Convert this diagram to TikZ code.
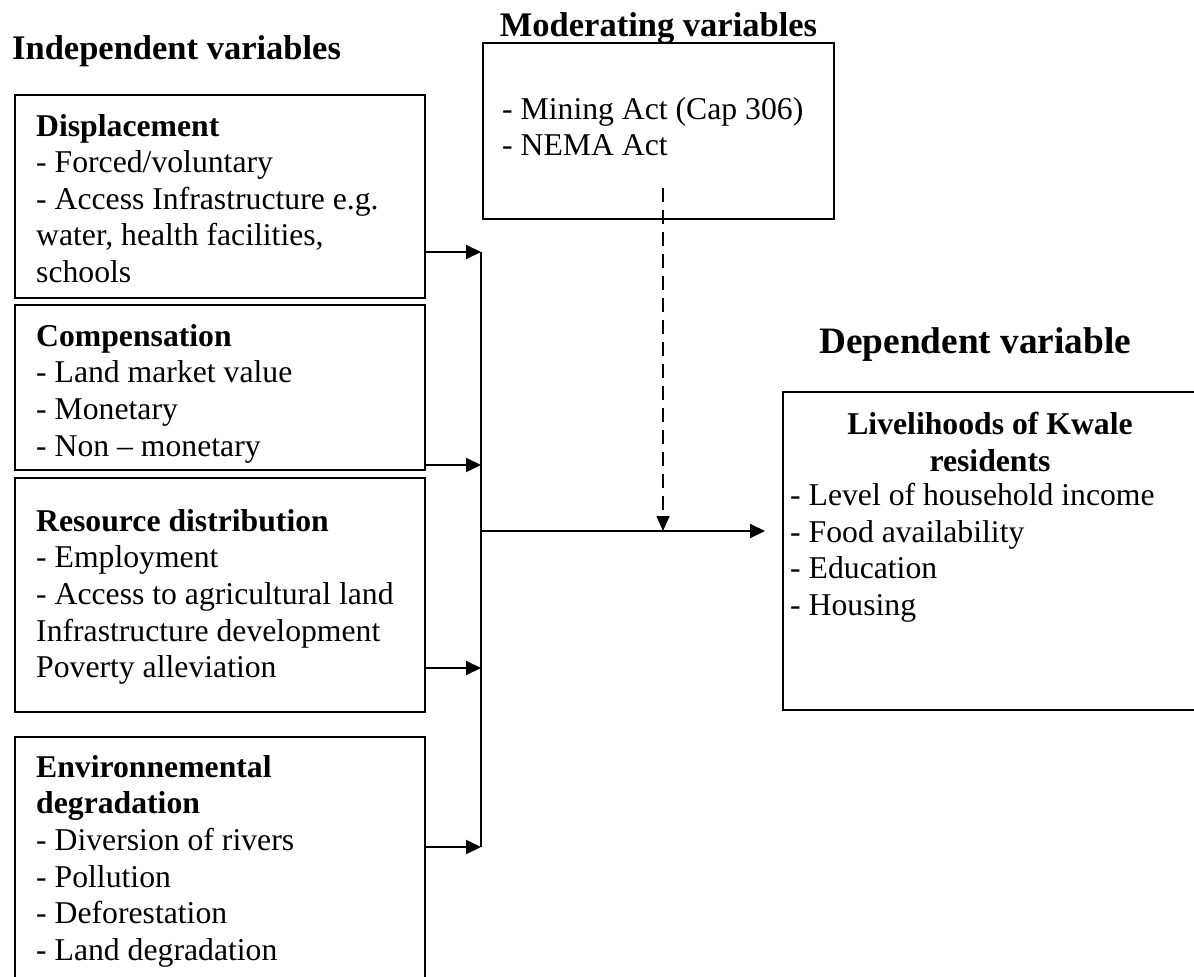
\documentclass[tikz,border=0pt]{standalone}
\usepackage{fontspec}
\setmainfont{Liberation Serif}
\usetikzlibrary{positioning,arrows.meta}

\tikzset{
  varbox/.style={draw,line width=1.9pt,anchor=north west,inner sep=0pt,outer sep=0pt},
  boxtext/.style={align=left,inner sep=0pt,font=\fontsize{31.7}{36.6}\selectfont},
  head/.style={inner sep=0pt,font=\bfseries\fontsize{#1}{#1}\selectfont},
  wire/.style={line width=1.9pt},
  link/.style={wire,-{Triangle[length=15pt,width=14pt]}},
  dlink/.style={line width=1.3pt,dash pattern=on 14pt off 8pt,-{Triangle[length=15pt,width=13pt]}},
}

\begin{document}
\begin{tikzpicture}[x=1pt,y=-1pt]
  \useasboundingbox (0,0) rectangle (1194,977);

  % independent variables
  \node[head=34.5,anchor=base west] (indephead) at (12,59) {Independent variables};
  \node[varbox,minimum width=410pt,minimum height=203pt] (disp) at (15,95) {};
  \node[varbox,minimum width=410pt,minimum height=165pt] (comp) at (15,305) {};
  \node[varbox,minimum width=410pt,minimum height=234pt] (res) at (15,478) {};
  \node[varbox,minimum width=410pt,minimum height=270pt] (env) at (15,737) {};

  \node[boxtext,below right=19pt and 21pt of disp.north west] (disptxt)
    {\textbf{Displacement}\\- Forced/voluntary\\- Access Infrastructure e.g.\\water, health facilities,\\schools};
  \node[boxtext,below right=19pt and 21pt of comp.north west] (comptxt)
    {\textbf{Compensation}\\- Land market value\\- Monetary\\- Non – monetary};
  \node[boxtext,below right=31pt and 21pt of res.north west] (restxt)
    {\textbf{Resource distribution}\\- Employment\\- Access to agricultural land\\Infrastructure development\\Poverty alleviation};
  \node[boxtext,below right=18pt and 21pt of env.north west] (envtxt)
    {\textbf{Environnemental}\\\textbf{degradation}\\- Diversion of rivers\\- Pollution\\- Deforestation\\- Land degradation};

  % moderating variables
  \node[varbox,minimum width=351pt,minimum height=176pt] (mod) at (483,43) {};
  \node[head=34.5,anchor=base] (modhead) at ([yshift=7pt]mod.north) {Moderating variables};
  \node[boxtext,below right=54pt and 19pt of mod.north west] (modtxt)
    {- Mining Act (Cap 306)\\- NEMA Act};

  % dependent variable
  \node[head=37.3,anchor=base west] (dephead) at (819,353) {Dependent variable};
  \node[varbox,minimum width=414pt,minimum height=318pt] (dep) at (783,392) {};
  \node[boxtext,align=center,font=\bfseries\fontsize{31.7}{36.6}\selectfont,
        anchor=north] (deptitle) at ([yshift=-20pt]dep.north) {Livelihoods of Kwale\\residents};
  \node[boxtext,below right=91pt and 7pt of dep.north west] (deptxt)
    {- Level of household income\\- Food availability\\- Education\\- Housing};

  % connectors
  \coordinate (bus1) at (481,252);
  \coordinate (bus2) at (481,465);
  \coordinate (bus3) at (481,668);
  \coordinate (bus4) at (481,847);
  \coordinate (busmid) at (481,531);
  \coordinate (modtail) at (663,188);
  \draw[wire] (bus1) -- (bus4);
  \foreach \b/\n in {disp/bus1,comp/bus2,res/bus3,env/bus4}
    \draw[link] (\b.east |- \n) -- (\n);
  \draw[link,shorten >=18pt] (busmid) -- (busmid -| dep.west);
  \draw[dlink] (modtail) -- (modtail |- busmid);
\end{tikzpicture}
\end{document}
